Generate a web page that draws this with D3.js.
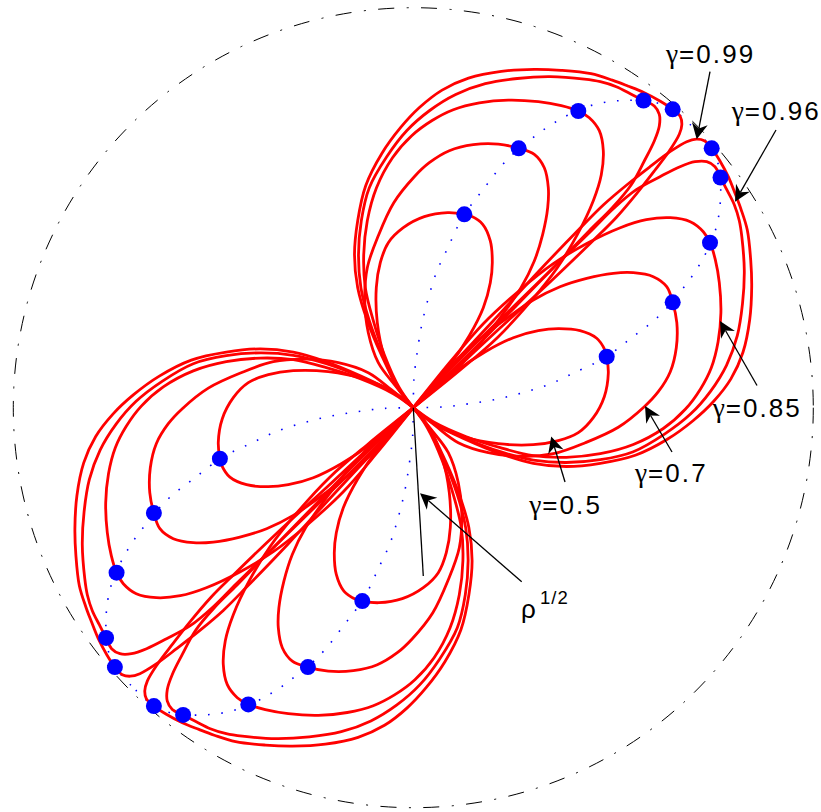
<!DOCTYPE html>
<html><head><meta charset="utf-8">
<script src="https://cdn.jsdelivr.net/npm/d3@7"></script>
<style>html,body{margin:0;padding:0;background:#fff;} svg{display:block;}</style>
</head><body>
<svg id="chart" width="821" height="812"></svg>
<script>
// ---- data (unit = boundary circle radius; lower-right petal of each gamma) ----
const gammas = [0.5, 0.7, 0.85, 0.96, 0.99];
const gammaLabels = ["0.5", "0.7", "0.85", "0.96", "0.99"];

const loop050 = [[0,0],[0.055,-0.042],[0.125,-0.072],[0.2125,-0.09],[0.3,-0.0925],[0.3625,-0.0825],[0.4125,-0.0625],[0.45,-0.025],[0.4775,0.0275],[0.4875,0.086],[0.4835,0.1275],[0.479,0.144],[0.4585,0.1735],[0.4168,0.1925],[0.3625,0.1975],[0.3125,0.1925],[0.25,0.175],[0.18,0.14],[0.105,0.09],[0.045,0.0375],[0,0]];
const loop070 = [[0,0],[0.055,-0.045],[0.1125,-0.0875],[0.1875,-0.1125],[0.2675,-0.1213],[0.35,-0.115],[0.43,-0.0875],[0.5125,-0.0488],[0.5775,0.0025],[0.6125,0.04],[0.6425,0.09],[0.6575,0.15],[0.6588,0.2125],[0.6485,0.2635],[0.6335,0.3025],[0.6,0.3275],[0.55,0.3375],[0.5,0.336],[0.4335,0.3235],[0.3668,0.3025],[0.3,0.2693],[0.2168,0.211],[0.1335,0.1443],[0.06,0.0675],[0,0]];
const loop085 = [[0,0],[0.05,-0.035],[0.1325,-0.0725],[0.2175,-0.1],[0.3,-0.12],[0.3825,-0.124],[0.4675,-0.115],[0.55,-0.092],[0.625,-0.052],[0.68,-0.004],[0.718,0.047],[0.745,0.1],[0.762,0.165],[0.769,0.2375],[0.765,0.3125],[0.755,0.37],[0.7418,0.4125],[0.725,0.44],[0.6925,0.465],[0.6425,0.475],[0.5825,0.47],[0.5175,0.45],[0.4325,0.41],[0.35,0.36],[0.2675,0.295],[0.175,0.21],[0.0925,0.115],[0,0]];
const loop096 = [[0,0],[0.05,-0.0375],[0.1325,-0.0775],[0.2175,-0.11],[0.3,-0.131],[0.3825,-0.137],[0.4675,-0.13],[0.55,-0.11],[0.628,-0.066],[0.693,-0.016],[0.743,0.041],[0.783,0.106],[0.81,0.18],[0.823,0.26],[0.8275,0.3425],[0.8213,0.4275],[0.815,0.4675],[0.8025,0.5075],[0.785,0.5425],[0.768,0.5755],[0.7543,0.6025],[0.7335,0.615],[0.7043,0.615],[0.6668,0.6025],[0.6168,0.5775],[0.5575,0.545],[0.5,0.4975],[0.4425,0.44],[0.35,0.35],[0.25,0.2525],[0.1375,0.1425],[0,0]];
const loop099 = [[0,0],[0.05,-0.0388],[0.1325,-0.08],[0.2175,-0.115],[0.3,-0.139],[0.3825,-0.147],[0.4675,-0.139],[0.555,-0.119],[0.635,-0.079],[0.70,-0.032],[0.751,0.016],[0.794,0.072],[0.824,0.138],[0.841,0.22],[0.846,0.3025],[0.8435,0.3693],[0.835,0.4443],[0.8188,0.4975],[0.8043,0.536],[0.7875,0.5775],[0.7663,0.6175],[0.746,0.6485],[0.7275,0.6675],[0.7075,0.6713],[0.6835,0.665],[0.6418,0.64],[0.5918,0.6025],[0.5335,0.5568],[0.475,0.5068],[0.4168,0.4485],[0.3125,0.34],[0.2,0.2175],[0.1,0.11],[0,0]];
const loops = [loop050, loop070, loop085, loop096, loop099];

const dotsLower = [[0.4835,0.1275],[0.6485,0.2635],[0.7418,0.4125],[0.768,0.5755],[0.746,0.6485]];
const locusLower = [[0,0],[0.0735,0.0018],[0.14,0.01],[0.2068,0.021],[0.2735,0.0375],[0.34,0.0585],[0.4025,0.0875],[0.465,0.1168],[0.4835,0.1275],[0.519,0.154],[0.546,0.175],[0.5735,0.196],[0.601,0.2168],[0.626,0.2418],[0.6485,0.2635],[0.669,0.2918],[0.69,0.3185],[0.709,0.3475],[0.726,0.375],[0.7418,0.4125],[0.754,0.44],[0.7625,0.4735],[0.767,0.507],[0.7685,0.54],[0.768,0.5755],[0.762,0.61],[0.746,0.6485],[0.7,0.7]];

const boundaryRadius = 1;
const rhoEnd = [0.025, -0.4208];

const labelPos = [[0.29,-0.2665],[0.5543,-0.1858],[0.7485,-0.024],[0.796,0.7193],[0.6318,0.8625]];
const arrowTail = [[0.3793,-0.1858],[0.6468,-0.1108],[0.8593,0.0555],[0.9068,0.6943],[0.7418,0.84]];
const arrowTip  = [[0.3448,-0.072],[0.5793,0.0043],[0.7668,0.2168],[0.8043,0.515],[0.7085,0.671]];
const rhoArrowTail = [0.271,-0.435];
const rhoArrowTip = [0.0168,-0.214];
const rhoLabel = "ρ", rhoSup = "1/2";
const rhoLabelPos = [0.2693,-0.5258];
const rhoSupPos = [0.3168,-0.4908];

// ---- drawing ----
const svg = d3.select("#chart");
const x = d3.scaleLinear().domain([-1, 1]).range([13.3, 813.3]);
const y = d3.scaleLinear().domain([-1, 1]).range([807.7, 7.7]);

// the four symmetric images of each petal
const images = [p => p, p => [p[1], p[0]], p => [-p[0], -p[1]], p => [-p[1], -p[0]]];

svg.append("circle")
  .attr("cx", x(0)).attr("cy", y(0)).attr("r", x(boundaryRadius) - x(0))
  .attr("fill", "none").attr("stroke", "#000").attr("stroke-width", 1)
  .attr("stroke-dasharray", "16,12.5,2,12.5");

const gLocus = svg.append("g");
images.forEach(T => {
  gLocus.append("path")
    .attr("d", d3.line().x(p => x(T(p)[0])).y(p => y(T(p)[1])).curve(d3.curveCatmullRom.alpha(0.5))(locusLower))
    .attr("fill", "none").attr("stroke", "#0000ff").attr("stroke-width", 1.6)
    .attr("stroke-dasharray", "1.6,11.7");
});

const gLoops = svg.append("g");
loops.forEach(loop => {
  images.forEach(T => {
    gLoops.append("path")
      .attr("d", d3.line().x(p => x(T(p)[0])).y(p => y(T(p)[1])).curve(d3.curveCatmullRom.alpha(0.5))(loop))
      .attr("fill", "none").attr("stroke", "#ff0000").attr("stroke-width", 2.8)
      .attr("stroke-linejoin", "round");
  });
});

const gDots = svg.append("g");
images.forEach(T => {
  gDots.selectAll(null).data(dotsLower).enter().append("circle")
    .attr("cx", d => x(T(d)[0])).attr("cy", d => y(T(d)[1])).attr("r", 8)
    .attr("fill", "#0000ff");
});

// rho^(1/2) radius line
svg.append("line")
  .attr("x1", x(0)).attr("y1", y(0)).attr("x2", x(rhoEnd[0])).attr("y2", y(rhoEnd[1]))
  .attr("stroke", "#000").attr("stroke-width", 1.3);

function arrow(tail, tip) {
  const tx = x(tail[0]), ty = y(tail[1]), px = x(tip[0]), py = y(tip[1]);
  const dx = tx - px, dy = ty - py, len = Math.hypot(dx, dy);
  const ux = dx / len, uy = dy / len, nx = -uy, ny = ux;
  const L = 16, Wd = 8, N = 11;
  svg.append("line").attr("x1", tx).attr("y1", ty).attr("x2", px + ux * N).attr("y2", py + uy * N)
    .attr("stroke", "#000").attr("stroke-width", 1.3);
  const pts = [[px, py], [px + ux * L + nx * Wd, py + uy * L + ny * Wd], [px + ux * N, py + uy * N], [px + ux * L - nx * Wd, py + uy * L - ny * Wd]];
  svg.append("path").attr("d", "M" + pts.map(p => p.join(",")).join("L") + "Z").attr("fill", "#000");
}
arrowTail.forEach((t, i) => arrow(t, arrowTip[i]));
arrow(rhoArrowTail, rhoArrowTip);

const font = "'Liberation Sans', Arial, Helvetica, sans-serif";
const serif = "'Liberation Serif', 'Times New Roman', serif";
gammaLabels.forEach((s, i) => {
  const t = svg.append("text").attr("x", x(labelPos[i][0])).attr("y", y(labelPos[i][1]))
    .attr("font-family", font).attr("font-size", 26).attr("fill", "#000");
  t.append("tspan").attr("font-family", serif).attr("font-size", 27.5).attr("letter-spacing", 0.8).text("γ");
  t.append("tspan").attr("letter-spacing", 2.1).text("=" + s);
});
svg.append("text").attr("x", x(rhoLabelPos[0])).attr("y", y(rhoLabelPos[1]))
  .attr("font-family", font).attr("font-size", 26).attr("fill", "#000").text(rhoLabel);
svg.append("text").attr("x", x(rhoSupPos[0])).attr("y", y(rhoSupPos[1]))
  .attr("font-family", font).attr("font-size", 18.5).attr("letter-spacing", 1).attr("fill", "#000").text(rhoSup);
</script>
</body></html>
